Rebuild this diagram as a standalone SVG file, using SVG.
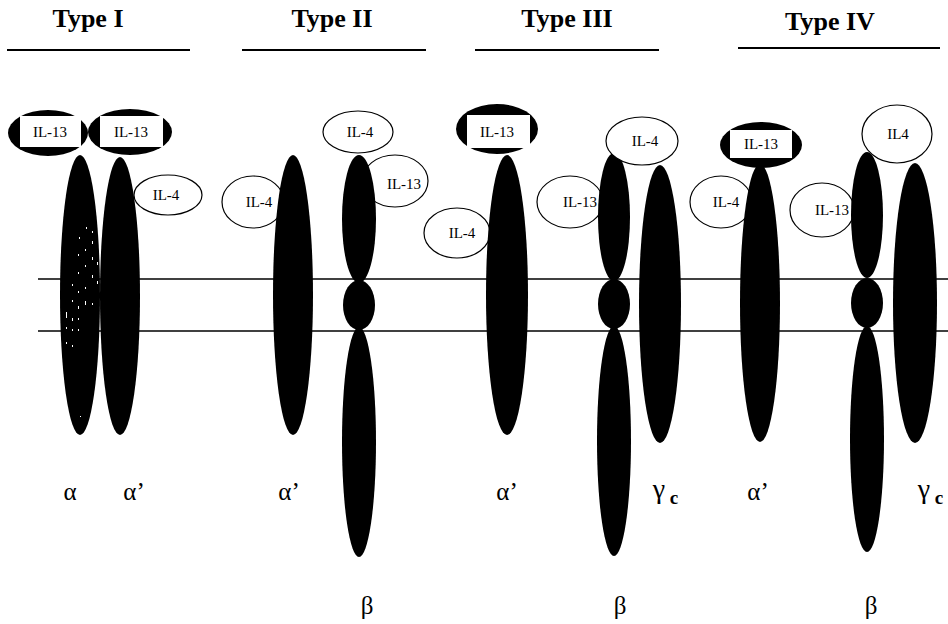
<svg xmlns="http://www.w3.org/2000/svg" width="948" height="624" viewBox="0 0 948 624">
  <style>
    text { font-family: "Liberation Serif", "DejaVu Serif", "Noto Serif", "Times New Roman", serif; fill: #000; }
    .hdr { font-weight: bold; font-size: 26px; text-anchor: middle; }
    .uline { stroke: #000; stroke-width: 2; }
    .mem { stroke: #000; stroke-width: 1.5; }
    .chain { fill: #000; }
    .lig { fill: #fff; stroke: #000; stroke-width: 1.2; }
    .ligb { fill: #000; }
    .box { fill: #fff; }
    .speck { fill: #fff; }
    .lt { font-size: 15px; text-anchor: middle; }
    .sub { font-size: 25px; text-anchor: middle; }
    .gam { font-size: 28px; text-anchor: middle; }
    .subb { font-size: 19px; font-weight: bold; text-anchor: middle; }
  </style>

  <rect width="948" height="624" fill="#fff"/>

  <!-- headings -->
  <g id="headings">
    <text class="hdr" x="88" y="27">Type I</text>
    <text class="hdr" x="332" y="27">Type II</text>
    <text class="hdr" x="567" y="27">Type III</text>
    <text class="hdr" x="830" y="30">Type IV</text>
    <line class="uline" x1="7" y1="50" x2="190" y2="50"/>
    <line class="uline" x1="242" y1="50" x2="426" y2="50"/>
    <line class="uline" x1="475" y1="50" x2="659" y2="50"/>
    <line class="uline" x1="738" y1="48" x2="940" y2="48"/>
  </g>

  <!-- cell membrane -->
  <g id="membrane">
    <line class="mem" x1="38" y1="279" x2="948" y2="279"/>
    <line class="mem" x1="38" y1="331" x2="948" y2="331"/>
  </g>

  <!-- Type I -->
  <g id="type1-il4">
    <ellipse class="lig" cx="168" cy="195" rx="34" ry="20"/>
    <text class="lt" x="166" y="200">IL-4</text>
  </g>
  <g id="type1-alpha">
    <ellipse class="chain" cx="80" cy="295" rx="20" ry="140"/>
    <!-- stippled texture -->
    <g class="speck">
      <rect x="86" y="227" width="1" height="2"/><rect x="92" y="231" width="1" height="2"/>
      <rect x="79" y="237" width="1" height="2"/><rect x="92" y="241" width="1" height="3"/>
      <rect x="85" y="249" width="1" height="2"/><rect x="78" y="254" width="1" height="2"/>
      <rect x="92" y="257" width="1" height="3"/><rect x="97" y="262" width="1" height="3"/>
      <rect x="85" y="265" width="1" height="2"/><rect x="78" y="272" width="1" height="2"/>
      <rect x="92" y="275" width="1" height="3"/><rect x="97" y="281" width="1" height="3"/>
      <rect x="72" y="284" width="1" height="2"/><rect x="85" y="287" width="1" height="2"/>
      <rect x="78" y="291" width="1" height="2"/><rect x="72" y="300" width="1" height="2"/>
      <rect x="85" y="301" width="1" height="4"/><rect x="92" y="303" width="1" height="2"/>
      <rect x="78" y="306" width="1" height="3"/><rect x="66" y="312" width="1" height="6"/>
      <rect x="72" y="318" width="1" height="3"/><rect x="78" y="318" width="1" height="2"/>
      <rect x="66" y="327" width="1" height="2"/><rect x="72" y="329" width="1" height="2"/>
      <rect x="78" y="329" width="1" height="2"/><rect x="66" y="342" width="1" height="2"/>
      <rect x="72" y="345" width="1" height="2"/><rect x="80" y="416" width="1" height="1"/>
    </g>
  </g>
  <g id="type1-alpha2">
    <ellipse class="chain" cx="120" cy="296" rx="20" ry="139"/>
  </g>
  <g id="type1-il13a">
    <ellipse class="ligb" cx="48" cy="133" rx="40" ry="23"/>
    <rect class="box" x="20" y="116" width="61" height="31"/>
    <text class="lt" x="50" y="137">IL-13</text>
  </g>
  <g id="type1-il13b">
    <ellipse class="ligb" cx="130" cy="132" rx="42" ry="23"/>
    <rect class="box" x="100" y="116" width="63" height="31"/>
    <text class="lt" x="131" y="137">IL-13</text>
  </g>

  <!-- Type II -->
  <g id="type2-il4a">
    <ellipse class="lig" cx="253" cy="202" rx="31" ry="26"/>
    <text class="lt" x="259" y="207">IL-4</text>
  </g>
  <g id="type2-alpha2">
    <ellipse class="chain" cx="293" cy="295" rx="20" ry="140"/>
  </g>
  <g id="type2-il13">
    <ellipse class="lig" cx="395" cy="181" rx="33" ry="26"/>
    <text class="lt" x="404" y="189">IL-13</text>
  </g>
  <g id="type2-beta">
    <ellipse class="chain" cx="359" cy="219" rx="17" ry="64"/>
    <ellipse class="chain" cx="359" cy="305" rx="16" ry="25"/>
    <ellipse class="chain" cx="359" cy="442" rx="17" ry="115"/>
  </g>
  <g id="type2-il4b">
    <ellipse class="lig" cx="358" cy="132" rx="35" ry="21"/>
    <text class="lt" x="360" y="137">IL-4</text>
  </g>

  <!-- Type III -->
  <g id="type3-il4a">
    <ellipse class="lig" cx="457" cy="233" rx="33" ry="25"/>
    <text class="lt" x="462" y="238">IL-4</text>
  </g>
  <g id="type3-alpha2">
    <ellipse class="chain" cx="507" cy="295" rx="21" ry="140"/>
  </g>
  <g id="type3-il13">
    <ellipse class="ligb" cx="497" cy="129" rx="41" ry="25"/>
    <rect class="box" x="467" y="115" width="63" height="33"/>
    <text class="lt" x="497" y="137">IL-13</text>
  </g>
  <g id="type3-il13b">
    <ellipse class="lig" cx="570" cy="202" rx="33" ry="26"/>
    <text class="lt" x="580" y="207">IL-13</text>
  </g>
  <g id="type3-beta">
    <ellipse class="chain" cx="614" cy="217" rx="16" ry="64"/>
    <ellipse class="chain" cx="614" cy="304" rx="16" ry="25"/>
    <ellipse class="chain" cx="614" cy="441" rx="17" ry="115"/>
  </g>
  <g id="type3-gammac">
    <ellipse class="chain" cx="660" cy="304" rx="21" ry="139"/>
  </g>
  <g id="type3-il4b">
    <ellipse class="lig" cx="642" cy="141" rx="36" ry="24"/>
    <text class="lt" x="645" y="146">IL-4</text>
  </g>

  <!-- Type IV -->
  <g id="type4-il4a">
    <ellipse class="lig" cx="721" cy="202" rx="31" ry="26"/>
    <text class="lt" x="726" y="207">IL-4</text>
  </g>
  <g id="type4-alpha2">
    <ellipse class="chain" cx="760" cy="303" rx="20" ry="139"/>
  </g>
  <g id="type4-il13">
    <ellipse class="ligb" cx="761" cy="145" rx="41" ry="23"/>
    <rect class="box" x="730" y="130" width="62" height="28"/>
    <text class="lt" x="761" y="149">IL-13</text>
  </g>
  <g id="type4-il13b">
    <ellipse class="lig" cx="822" cy="210" rx="32" ry="27"/>
    <text class="lt" x="832" y="215">IL-13</text>
  </g>
  <g id="type4-beta">
    <ellipse class="chain" cx="867" cy="215" rx="16" ry="63"/>
    <ellipse class="chain" cx="867" cy="303" rx="16" ry="25"/>
    <ellipse class="chain" cx="867" cy="439" rx="17" ry="113"/>
  </g>
  <g id="type4-gammac">
    <ellipse class="chain" cx="915" cy="303" rx="22" ry="140"/>
  </g>
  <g id="type4-il4b">
    <ellipse class="lig" cx="897" cy="134" rx="35" ry="29"/>
    <text class="lt" x="898" y="139">IL4</text>
  </g>

  <!-- chain names -->
  <g id="labels">
    <text class="sub" x="70" y="500">α</text>
    <text class="sub" x="134" y="500">α’</text>
    <text class="sub" x="289" y="500">α’</text>
    <text class="sub" x="367" y="614">β</text>
    <text class="sub" x="507" y="500">α’</text>
    <text class="sub" x="620" y="614">β</text>
    <text class="gam" x="659" y="498">γ</text><text class="subb" x="674" y="504">c</text>
    <text class="sub" x="758" y="500">α’</text>
    <text class="sub" x="871" y="614">β</text>
    <text class="gam" x="924" y="498">γ</text><text class="subb" x="939" y="504">c</text>
  </g>
</svg>
